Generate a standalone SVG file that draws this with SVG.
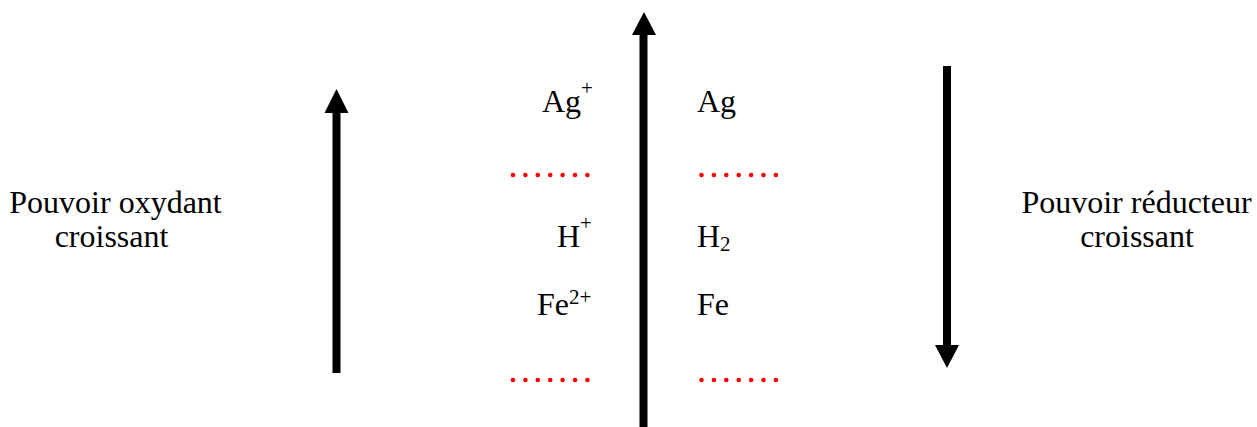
<svg xmlns="http://www.w3.org/2000/svg" width="1257" height="427" viewBox="0 0 1257 427">
<style>
text{font-family:"Liberation Serif","Times New Roman",serif;font-size:32px;fill:#000}
.sup{font-size:21px}
.arrow{fill:#000}
.dot{fill:#ff0000}
</style>
<defs>
<g id="dots">
<circle class="dot" cx="0" cy="0" r="2.3"/>
<circle class="dot" cx="12.4" cy="0" r="2.3"/>
<circle class="dot" cx="24.8" cy="0" r="2.3"/>
<circle class="dot" cx="37.2" cy="0" r="2.3"/>
<circle class="dot" cx="49.6" cy="0" r="2.3"/>
<circle class="dot" cx="62" cy="0" r="2.3"/>
<circle class="dot" cx="74.4" cy="0" r="2.3"/>
</g>
</defs>
<g id="connectors">
<g id="arrow-center">
<rect class="arrow" x="639.5" y="34" width="8" height="393"/>
<polygon class="arrow" points="632,35 656,35 644,12"/>
</g>
<g id="arrow-left">
<rect class="arrow" x="332.5" y="112" width="8" height="261"/>
<polygon class="arrow" points="324.5,113 348.5,113 336.5,89"/>
</g>
<g id="arrow-right">
<rect class="arrow" x="943" y="66" width="8" height="280"/>
<polygon class="arrow" points="935,345 959,345 947,368"/>
</g>
</g>
<g id="dots-top">
<use href="#dots" x="513" y="175"/>
<use href="#dots" x="701.5" y="175"/>
</g>
<g id="dots-bottom">
<use href="#dots" x="513" y="380"/>
<use href="#dots" x="701.5" y="380"/>
</g>
<g id="label-oxydant">
<text x="115.5" y="213" text-anchor="middle">Pouvoir oxydant</text>
<text x="111.5" y="247" text-anchor="middle">croissant</text>
</g>
<g id="label-reducteur">
<text x="1136.5" y="213" text-anchor="middle">Pouvoir réducteur</text>
<text x="1137" y="247" text-anchor="middle">croissant</text>
</g>
<g id="node-ag-plus"><text x="542" y="112">Ag<tspan class="sup" dy="-17">+</tspan></text></g>
<g id="node-ag"><text x="697" y="112">Ag</text></g>
<g id="node-h-plus"><text x="557" y="247">H<tspan class="sup" dy="-17">+</tspan></text></g>
<g id="node-h2"><text x="697" y="247">H<tspan class="sup" dy="4">2</tspan></text></g>
<g id="node-fe2-plus"><text x="537" y="315">Fe<tspan class="sup" dy="-11">2+</tspan></text></g>
<g id="node-fe"><text x="697" y="315">Fe</text></g>
</svg>
